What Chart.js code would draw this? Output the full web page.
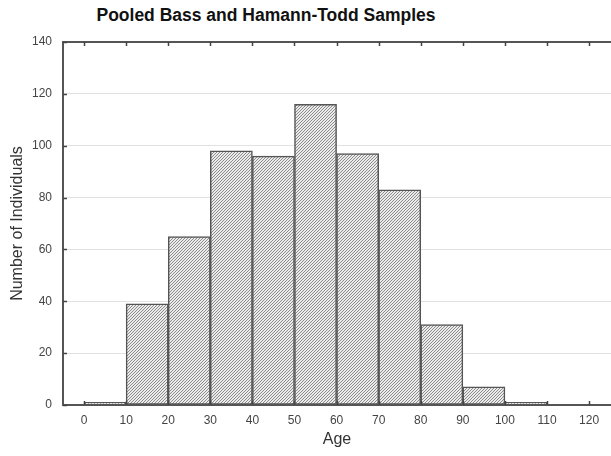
<!DOCTYPE html>
<html>
<head>
<meta charset="utf-8">
<script src="https://cdn.jsdelivr.net/npm/chart.js@4"></script>
<style>
  html, body { margin: 0; padding: 0; background: #fff; }
  #wrap { position: relative; width: 611px; height: 456px; }
  #title { position: absolute; top: 5px; left: 66px; width: 400px; text-align: center;
           font: bold 17.5px "Liberation Sans", Arial, sans-serif; color: #111; white-space: nowrap; }
  canvas { position: absolute; left: 0; top: 0; }
</style>
</head>
<body>
<div id="wrap">
  <div id="title">Pooled Bass and Hamann-Todd Samples</div>
  <canvas id="c" width="611" height="456"></canvas>
</div>
<script>
const titleText = "Pooled Bass and Hamann-Todd Samples";
const binStarts = [0, 10, 20, 30, 40, 50, 60, 70, 80, 90, 100, 110];
const binWidth = 10;
const counts = [1, 39, 65, 98, 96, 116, 97, 83, 31, 7, 1, 0];
const xTickValues = [0, 10, 20, 30, 40, 50, 60, 70, 80, 90, 100, 110, 120];
const yTickValues = [0, 20, 40, 60, 80, 100, 120, 140];
const xTitle = "Age";
const yTitle = "Number of Individuals";

function makeHatch() {
  const s = 3;
  const p = document.createElement('canvas');
  p.width = s; p.height = s;
  const g = p.getContext('2d');
  g.fillStyle = '#ebebeb';
  g.fillRect(0, 0, s, s);
  g.strokeStyle = '#8c8c8c';
  g.lineWidth = 1;
  g.beginPath();
  g.moveTo(0, s); g.lineTo(s, 0);
  g.moveTo(-1, 1); g.lineTo(1, -1);
  g.moveTo(s - 1, s + 1); g.lineTo(s + 1, s - 1);
  g.stroke();
  return document.getElementById('c').getContext('2d').createPattern(p, 'repeat');
}

const ctx = document.getElementById('c');
const data = binStarts.map((b, i) => ({ x: b + binWidth / 2, y: counts[i] }));

const framePlugin = {
  id: 'frame',
  afterDatasetsDraw(chart) {
    const { ctx, chartArea: a, scales } = chart;
    ctx.save();
    ctx.strokeStyle = '#555';
    ctx.lineWidth = 2;
    ctx.beginPath();
    ctx.moveTo(a.right + 2, a.top); ctx.lineTo(a.left, a.top); ctx.lineTo(a.left, a.bottom); ctx.lineTo(a.right + 2, a.bottom);
    ctx.stroke();
    ctx.lineWidth = 1.5;
    ctx.strokeStyle = '#444';
    ctx.beginPath();
    xTickValues.forEach(v => {
      const px = Math.round(scales.x.getPixelForValue(v)) + 0.5;
      ctx.moveTo(px, a.top); ctx.lineTo(px, a.top + 4);
      ctx.moveTo(px, a.bottom); ctx.lineTo(px, a.bottom - 4);
    });
    yTickValues.forEach(v => {
      const py = Math.round(scales.y.getPixelForValue(v)) + 0.5;
      ctx.moveTo(a.left, py); ctx.lineTo(a.left + 4, py);
    });
    ctx.stroke();
    ctx.restore();
  }
};

new Chart(ctx, {
  type: 'bar',
  data: {
    datasets: [{
      data: data,
      backgroundColor: makeHatch(),
      borderColor: '#555555',
      borderWidth: 1.5,
      borderSkipped: false,
      barPercentage: 1,
      categoryPercentage: 1
    }]
  },
  options: {
    responsive: false,
    animation: false,
    layout: { padding: { top: 42, right: 0, left: 0, bottom: 0 } },
    plugins: { legend: { display: false }, tooltip: { enabled: false }, title: { display: false } },
    scales: {
      x: {
        type: 'linear',
        min: -5,
        max: 125.2,
        offset: false,
        afterBuildTicks(scale) { scale.ticks = xTickValues.map(v => ({ value: v })); },
        afterFit(scale) { scale.height = 51; },
        grid: { display: false, drawTicks: false },
        border: { display: false },
        ticks: { padding: 8, color: '#444', font: { family: 'Liberation Sans, Arial', size: 12 }, maxRotation: 0, autoSkip: false },
        title: { display: true, text: xTitle, color: '#333', font: { family: 'Liberation Sans, Arial', size: 16 }, padding: { top: 0, bottom: 7 } }
      },
      y: {
        min: 0,
        max: 140,
        afterBuildTicks(scale) { scale.ticks = yTickValues.map(v => ({ value: v })); },
        afterFit(scale) { scale.width = 63; },
        grid: { color: '#e2e2e2', lineWidth: 1, drawTicks: false },
        border: { display: false },
        ticks: { padding: 11, color: '#444', font: { family: 'Liberation Sans, Arial', size: 12 } },
        title: { display: true, text: yTitle, color: '#333', font: { family: 'Liberation Sans, Arial', size: 16 }, padding: { top: 8, bottom: 0 } }
      }
    }
  },
  plugins: [framePlugin]
});
</script>
</body>
</html>
